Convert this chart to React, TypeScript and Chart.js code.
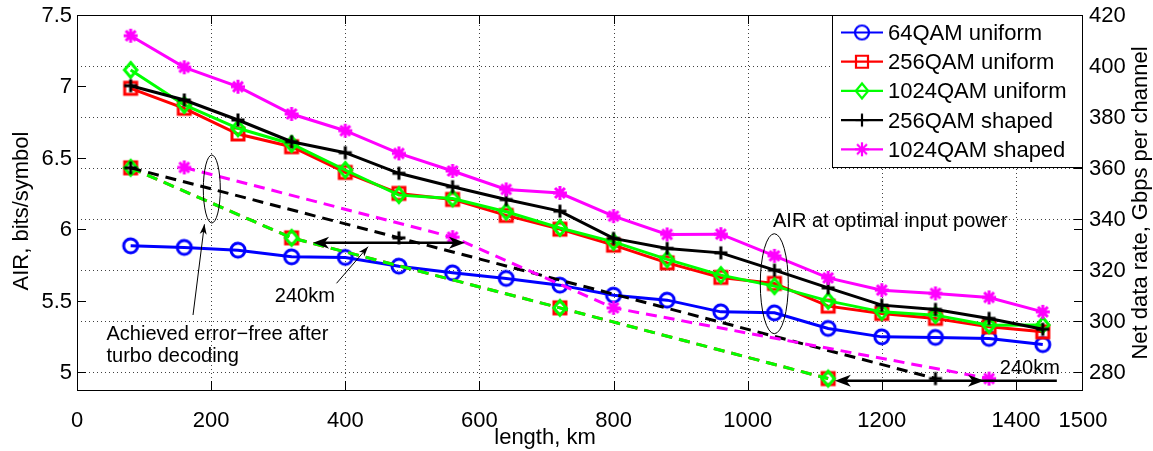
import React, { useEffect, useRef } from 'react';
import { Chart, registerables } from 'chart.js';

Chart.register(...registerables);

// ---------- data ----------
const lengthKm = [80, 160, 240, 320, 400, 480, 560, 640, 720, 800, 880, 960, 1040, 1120, 1200, 1280, 1360, 1440];
const qam64Uniform = [5.884, 5.873, 5.854, 5.807, 5.803, 5.742, 5.695, 5.656, 5.609, 5.539, 5.504, 5.422, 5.415, 5.306, 5.247, 5.243, 5.236, 5.193];
const qam256Uniform = [6.987, 6.847, 6.667, 6.578, 6.398, 6.251, 6.209, 6.097, 6.001, 5.889, 5.765, 5.663, 5.621, 5.462, 5.411, 5.376, 5.317, 5.282];
const qam1024Uniform = [7.115, 6.870, 6.707, 6.597, 6.415, 6.239, 6.216, 6.123, 6.009, 5.912, 5.789, 5.679, 5.602, 5.499, 5.422, 5.399, 5.329, 5.330];
const qam256Shaped = [7.005, 6.905, 6.765, 6.613, 6.536, 6.392, 6.298, 6.208, 6.127, 5.936, 5.866, 5.835, 5.714, 5.590, 5.469, 5.439, 5.376, 5.300];
const qam1024Shaped = [7.355, 7.134, 6.998, 6.807, 6.690, 6.531, 6.408, 6.279, 6.254, 6.092, 5.964, 5.966, 5.814, 5.660, 5.574, 5.551, 5.523, 5.422];

// error-free after turbo decoding
const errFree256UniformKm = [80, 320, 720, 1120];
const errFree256UniformAir = [6.43, 5.94, 5.45, 4.955];
const errFree1024UniformKm = [80, 320, 720, 1120];
const errFree1024UniformAir = [6.43, 5.94, 5.45, 4.955];
const errFree256ShapedKm = [80, 480, 1280];
const errFree256ShapedAir = [6.43, 5.94, 4.955];
const errFree1024ShapedKm = [160, 560, 800, 1360];
const errFree1024ShapedAir = [6.433, 5.945, 5.45, 4.955];

const seriesLabels = ['64QAM uniform', '256QAM uniform', '1024QAM uniform', '256QAM shaped', '1024QAM shaped'];

const xTickValues = [0, 200, 400, 600, 800, 1000, 1200, 1400, 1500];
const xTickLabels = ['0', '200', '400', '600', '800', '1000', '1200', '1400', '1500'];
const airTickValues = [5, 5.5, 6, 6.5, 7, 7.5];
const airTickLabels = ['5', '5.5', '6', '6.5', '7', '7.5'];
const rateTickValues = [280, 300, 320, 340, 360, 380, 400, 420];
const rateTickLabels = ['280', '300', '320', '340', '360', '380', '400', '420'];

const X_MIN = 0, X_MAX = 1500;
const AIR_MIN = 4.875, AIR_MAX = 7.5;
const RATE_MIN = 273, RATE_MAX = 420;

// ---------- styles ----------
const FONT = '"Liberation Sans", Arial, Helvetica, sans-serif';
const COLORS = ['#0000ff', '#ff0000', '#00ff00', '#000000', '#ff00ff'];
const MARKERS = ['circle', 'square', 'diamond', 'plus', 'star'];

function makeMarker(kind: string, color: string, lw: number) {
  const size = 28;
  const c = document.createElement('canvas');
  c.width = size;
  c.height = size;
  const g = c.getContext('2d')!;
  g.strokeStyle = color;
  g.lineWidth = lw;
  g.lineJoin = 'miter';
  const m = size / 2;
  g.beginPath();
  if (kind === 'circle') {
    g.arc(m, m, 7, 0, Math.PI * 2);
  } else if (kind === 'square') {
    g.rect(m - 6, m - 6, 12, 12);
  } else if (kind === 'diamond') {
    g.moveTo(m, m - 7.5);
    g.lineTo(m + 6.2, m);
    g.lineTo(m, m + 7.5);
    g.lineTo(m - 6.2, m);
    g.closePath();
  } else if (kind === 'plus') {
    g.moveTo(m - 6.5, m); g.lineTo(m + 6.5, m);
    g.moveTo(m, m - 6.5); g.lineTo(m, m + 6.5);
  } else if (kind === 'star') {
    const s = 7, d = 7 * Math.SQRT1_2;
    g.moveTo(m - s, m); g.lineTo(m + s, m);
    g.moveTo(m, m - s); g.lineTo(m, m + s);
    g.moveTo(m - d, m - d); g.lineTo(m + d, m + d);
    g.moveTo(m - d, m + d); g.lineTo(m + d, m - d);
  }
  g.stroke();
  return c;
}

function arrowHead(ctx: CanvasRenderingContext2D, tx: number, ty: number, ux: number, uy: number, len: number, hw: number) {
  const n = Math.hypot(ux, uy);
  ux /= n; uy /= n;
  const bx = tx - ux * len, by = ty - uy * len;
  const px = -uy, py = ux;
  const ix = tx - ux * len * 0.72, iy = ty - uy * len * 0.72;
  ctx.beginPath();
  ctx.moveTo(tx, ty);
  ctx.lineTo(bx + px * hw, by + py * hw);
  ctx.lineTo(ix, iy);
  ctx.lineTo(bx - px * hw, by - py * hw);
  ctx.closePath();
  ctx.fill();
}

let legendMarkers: HTMLCanvasElement[] = [];

const matlabPlugin = {
  id: 'matlabLook',
  beforeDatasetsDraw(chart: any) {
    const { ctx, chartArea } = chart;
    const { left, right, top, bottom } = chartArea;
    const x = chart.scales.x, y2 = chart.scales.y2;
    ctx.save();
    ctx.strokeStyle = '#404040';
    ctx.lineWidth = 1;
    ctx.setLineDash([1, 3]);
    for (const v of xTickValues) {
      if (v <= X_MIN || v >= X_MAX) continue;
      const p = Math.round(x.getPixelForValue(v)) + 0.5;
      ctx.beginPath(); ctx.moveTo(p, bottom); ctx.lineTo(p, top); ctx.stroke();
    }
    for (const v of rateTickValues) {
      if (v <= RATE_MIN || v >= RATE_MAX) continue;
      const p = Math.round(y2.getPixelForValue(v)) + 0.5;
      ctx.beginPath(); ctx.moveTo(left, p); ctx.lineTo(right, p); ctx.stroke();
    }
    ctx.restore();
  },
  afterDatasetsDraw(chart: any) {
    const { ctx, chartArea } = chart;
    const { left, right, top, bottom } = chartArea;
    const x = chart.scales.x, y = chart.scales.y, y2 = chart.scales.y2;
    const px = (v: number) => x.getPixelForValue(v);
    const py = (v: number) => y.getPixelForValue(v);
    ctx.save();
    ctx.setLineDash([]);
    // frame
    ctx.strokeStyle = '#000';
    ctx.lineWidth = 1;
    ctx.strokeRect(Math.round(left) + 0.5, Math.round(top) + 0.5, Math.round(right - left) - 1, Math.round(bottom - top));
    // ticks
    const TL = 9;
    ctx.beginPath();
    for (const v of xTickValues) {
      if (v <= X_MIN || v >= X_MAX) continue;
      const p = Math.round(px(v)) + 0.5;
      ctx.moveTo(p, bottom); ctx.lineTo(p, bottom - TL);
      ctx.moveTo(p, top); ctx.lineTo(p, top + TL);
    }
    for (const v of airTickValues) {
      if (v <= AIR_MIN || v >= AIR_MAX) continue;
      const p = Math.round(py(v)) + 0.5;
      ctx.moveTo(left, p); ctx.lineTo(left + TL, p);
      ctx.moveTo(right, p); ctx.lineTo(right - TL, p);
    }
    for (const v of rateTickValues) {
      if (v <= RATE_MIN || v >= RATE_MAX) continue;
      const p = Math.round(y2.getPixelForValue(v)) + 0.5;
      ctx.moveTo(right, p); ctx.lineTo(right - TL, p);
    }
    ctx.stroke();

    // tick labels
    ctx.fillStyle = '#000';
    ctx.font = `22px ${FONT}`;
    ctx.textBaseline = 'alphabetic';
    ctx.textAlign = 'center';
    xTickValues.forEach((v, i) => ctx.fillText(xTickLabels[i], px(v), bottom + 37));
    ctx.textAlign = 'right';
    airTickValues.forEach((v, i) => ctx.fillText(airTickLabels[i], left - 5, py(v) + 7));
    ctx.textAlign = 'left';
    rateTickValues.forEach((v, i) => ctx.fillText(rateTickLabels[i], right + 6, y2.getPixelForValue(v) + 7));

    // axis titles
    ctx.textAlign = 'center';
    ctx.fillText('length, km', 545, bottom + 54);
    ctx.save();
    ctx.translate(28, 211);
    ctx.rotate(-Math.PI / 2);
    ctx.fillText('AIR, bits/symbol', 0, 0);
    ctx.restore();
    ctx.save();
    ctx.translate(1147, 203);
    ctx.rotate(-Math.PI / 2);
    ctx.fillText('Net data rate, Gbps per channel', 0, 0);
    ctx.restore();

    // annotations
    ctx.lineWidth = 1;
    ctx.strokeStyle = '#000';
    ctx.fillStyle = '#000';
    ctx.beginPath();
    ctx.ellipse(px(201), py(6.282), 8.5, 34, 0, 0, Math.PI * 2);
    ctx.stroke();
    {
      const x1 = px(173), y1 = py(5.40), x2 = px(190), y2p = py(6.035);
      ctx.beginPath(); ctx.moveTo(x1, y1); ctx.lineTo(x2, y2p); ctx.stroke();
      arrowHead(ctx, x2, y2p, x2 - x1, y2p - y1, 10, 3.5);
    }
    ctx.font = `20px ${FONT}`;
    ctx.textAlign = 'left';
    ctx.fillText('Achieved error\u2212free after', px(44), py(5.225));
    ctx.fillText('turbo decoding', px(44), py(5.071));
    ctx.fillText('240km', px(295), py(5.493));
    {
      const x1 = px(387), y1 = py(5.622), x2 = px(434), y2p = py(5.878);
      ctx.beginPath(); ctx.moveTo(x1, y1); ctx.lineTo(x2, y2p); ctx.stroke();
      arrowHead(ctx, x2, y2p, x2 - x1, y2p - y1, 10, 3.5);
    }
    ctx.fillText('AIR at optimal input power', px(1037.8), py(6.016));
    ctx.beginPath();
    ctx.ellipse(px(1039.7), py(5.619), 14, 50, 0, 0, Math.PI * 2);
    ctx.stroke();
    ctx.fillText('240km', px(1376), py(4.987));

    // double arrows
    ctx.lineWidth = 2.4;
    {
      const yy = py(5.906), a = px(352), b = px(578.5);
      ctx.beginPath(); ctx.moveTo(a + 8, yy); ctx.lineTo(b - 8, yy); ctx.stroke();
      arrowHead(ctx, a, yy, -1, 0, 16, 6);
      arrowHead(ctx, b, yy, 1, 0, 16, 6);
    }
    {
      const yy = py(4.94), a = px(1130), b = px(1352.4), c = px(1461);
      ctx.beginPath(); ctx.moveTo(a + 8, yy); ctx.lineTo(c, yy); ctx.stroke();
      arrowHead(ctx, a, yy, -1, 0, 16, 6);
      arrowHead(ctx, b, yy, 1, 0, 16, 6);
    }

    // legend
    const lw = 251, lh = 152;
    const lx = right - lw, ly = top;
    ctx.fillStyle = '#fff';
    ctx.fillRect(lx, ly, lw, lh);
    ctx.strokeStyle = '#000';
    ctx.lineWidth = 1;
    ctx.strokeRect(Math.round(lx) + 0.5, Math.round(ly) + 0.5, lw - 1, lh);
    ctx.font = `22px ${FONT}`;
    ctx.textAlign = 'left';
    seriesLabels.forEach((lab, i) => {
      const base = ly + 25 + 29.2 * i;
      const my = base - 7.5;
      ctx.strokeStyle = COLORS[i];
      ctx.lineWidth = 2.2;
      ctx.beginPath(); ctx.moveTo(lx + 9, my); ctx.lineTo(lx + 51, my); ctx.stroke();
      const mk = legendMarkers[i];
      if (mk) ctx.drawImage(mk, lx + 30 - mk.width / 2, my - mk.height / 2);
      ctx.fillStyle = '#000';
      ctx.fillText(lab, lx + 56, base);
    });
    ctx.restore();
  },
};

export default function App() {
  const ref = useRef<HTMLCanvasElement>(null);
  useEffect(() => {
    const plotMarkers = MARKERS.map((k, i) => makeMarker(k, COLORS[i], 3));
    legendMarkers = MARKERS.map((k, i) => makeMarker(k, COLORS[i], 2.2));
    const pts = (xs: number[], ys: number[]) => xs.map((v, i) => ({ x: v, y: ys[i] }));
    const solid = [qam64Uniform, qam256Uniform, qam1024Uniform, qam256Shaped, qam1024Shaped];
    const solidSets = solid.map((arr, i) => ({
      label: seriesLabels[i],
      data: pts(lengthKm, arr),
      borderColor: COLORS[i],
      backgroundColor: COLORS[i],
      borderWidth: 3,
      pointStyle: plotMarkers[i],
      pointRadius: 7,
      tension: 0,
      fill: false,
    }));
    const dashedDefs = [
      { xs: errFree256UniformKm, ys: errFree256UniformAir, s: 1 },
      { xs: errFree1024UniformKm, ys: errFree1024UniformAir, s: 2 },
      { xs: errFree256ShapedKm, ys: errFree256ShapedAir, s: 3 },
      { xs: errFree1024ShapedKm, ys: errFree1024ShapedAir, s: 4 },
    ];
    const dashedSets = dashedDefs.map((d) => ({
      label: seriesLabels[d.s] + ' error-free',
      data: pts(d.xs, d.ys),
      borderColor: COLORS[d.s],
      backgroundColor: COLORS[d.s],
      borderWidth: 3,
      borderDash: [11, 7],
      pointStyle: plotMarkers[d.s],
      pointRadius: 7,
      tension: 0,
      fill: false,
    }));
    const all = [...solidSets, ...dashedSets].map((ds, i, arr) => ({ ...ds, order: arr.length - i }));
    const chart = new Chart(ref.current!, {
      type: 'line',
      data: { datasets: all as any },
      options: {
        animation: false,
        responsive: false,
        devicePixelRatio: 1,
        events: [],
        layout: { padding: { left: 77, right: 70, top: 15, bottom: 61 } },
        plugins: { legend: { display: false }, tooltip: { enabled: false } },
        scales: {
          x: { type: 'linear', min: X_MIN, max: X_MAX, display: false },
          y: { type: 'linear', min: AIR_MIN, max: AIR_MAX, display: false },
          y2: { type: 'linear', position: 'right', min: RATE_MIN, max: RATE_MAX, display: false },
        },
      },
      plugins: [matlabPlugin],
    } as any);
    return () => chart.destroy();
  }, []);
  return (
    <div style={{ position: 'absolute', left: 0, top: 0, width: 1153, height: 451, background: '#fff' }}>
      <canvas ref={ref} width={1153} height={451} style={{ display: 'block', width: 1153, height: 451 }} />
    </div>
  );
}
